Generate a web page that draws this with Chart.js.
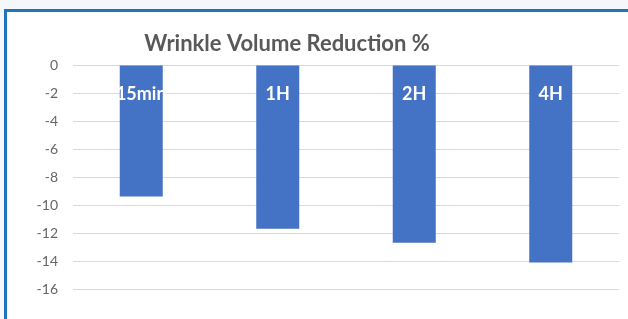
<!DOCTYPE html>
<html>
<head>
<meta charset="utf-8">
<script src="https://cdn.jsdelivr.net/npm/chart.js@4/dist/chart.umd.min.js"></script>
<style>
  html, body { margin: 0; padding: 0; background: #fff; }
  #frame { position: absolute; left: 0; top: 0; width: 628px; height: 319px; background: #f4f8fc; }
  #box { position: absolute; left: 4px; top: 9px; width: 640px; height: 330px;
         border-left: 3px solid #1f74bb; border-top: 3px solid #1f74bb; background: #fff; }
  #wrap { position: absolute; left: 0; top: 0; width: 628px; height: 319px; }
</style>
</head>
<body>
<div id="frame"><div id="box"></div></div>
<div id="wrap"><canvas id="c" width="628" height="319"></canvas></div>
<script>
var title_text = "Wrinkle Volume Reduction %";
var categories = ["15min", "1H", "2H", "4H"];
var reduction = [-9.4, -11.7, -12.7, -14.1];
var y_min = -16;
var y_max = 0;
var y_step = 2;

// category names sit inside the bars near the top, in white (Excel style)
const barLabels = {
  id: 'barLabels',
  afterDatasetsDraw(chart) {
    const ctx = chart.ctx;
    const meta = chart.getDatasetMeta(0);
    const y = chart.scales.y.getPixelForValue(-2.1);
    ctx.save();
    ctx.font = "bold 18px Lato";
    ctx.fillStyle = "#ffffff";
    ctx.textAlign = "center";
    ctx.textBaseline = "middle";
    meta.data.forEach((bar, i) => {
      ctx.fillText(categories[i], bar.x, y);
    });
    ctx.restore();
  }
};

const chartTitle = {
  id: 'chartTitle',
  afterDraw(chart) {
    const ctx = chart.ctx;
    ctx.save();
    ctx.font = "bold 22px Lato";
    ctx.fillStyle = "#595959";
    ctx.textAlign = "center";
    ctx.textBaseline = "alphabetic";
    ctx.fillText(title_text, 287, 51);
    ctx.restore();
  }
};

new Chart(document.getElementById("c"), {
  type: "bar",
  data: {
    labels: categories,
    datasets: [{
      data: reduction,
      backgroundColor: "#4472c4",
      borderColor: "#4472c4",
      borderWidth: 0,
      categoryPercentage: 1.0,
      barPercentage: 0.315
    }]
  },
  options: {
    responsive: false,
    animation: false,
    layout: { padding: { top: 65, bottom: 30, left: 0, right: 9 } },
    plugins: {
      legend: { display: false },
      title: { display: false },
      tooltip: { enabled: false }
    },
    scales: {
      x: { display: false },
      y: {
        min: y_min,
        max: y_max,
        ticks: {
          stepSize: y_step,
          color: "#666666",
          padding: 15,
          font: { family: "Lato", size: 14 }
        },
        grid: { color: "#d9d9d9", lineWidth: 1, drawTicks: false },
        border: { display: false },
        afterFit(axis) { axis.width = 73; }
      }
    }
  },
  plugins: [barLabels, chartTitle]
});
</script>
</body>
</html>
